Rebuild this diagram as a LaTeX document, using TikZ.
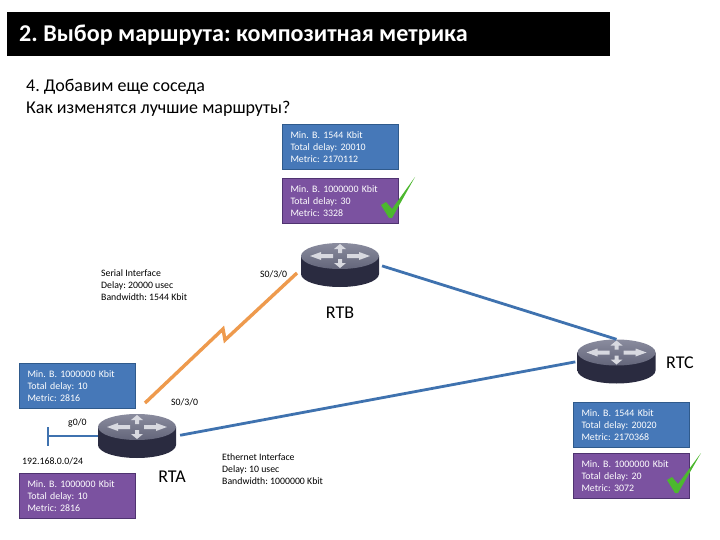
\documentclass[tikz,border=0pt]{standalone}
\usepackage{fontspec}
\setmainfont{Carlito}
\usetikzlibrary{arrows.meta}
\definecolor{barblue}{HTML}{3F72AF}
\definecolor{boxblue}{HTML}{4678B8}
\definecolor{boxblueedge}{HTML}{2F5A8C}
\definecolor{boxpurple}{HTML}{7B52A0}
\definecolor{boxpurpleedge}{HTML}{4F3370}
\definecolor{serial}{HTML}{EE9A4D}
\definecolor{tickgreen}{HTML}{4CB82E}
\definecolor{rdark}{HTML}{2A2B40}
\definecolor{rmid}{HTML}{5F6178}
\definecolor{rtop}{HTML}{8A8C9E}
\definecolor{rtopb}{HTML}{63657A}
\definecolor{rarrow}{HTML}{D8D9E0}
\tikzset{
  infobox/.style={draw, line width=1pt, minimum width=116pt, minimum height=45pt, inner sep=0pt, anchor=north west, text=white, font=\fontsize{9.9}{12}\selectfont, align=left, text width=100pt, inner xsep=8pt},
  blueinfo/.style={infobox, fill=boxblue, draw=boxblueedge},
  purpleinfo/.style={infobox, fill=boxpurple, draw=boxpurpleedge},
  note/.style={anchor=north west, inner sep=0pt, font=\fontsize{9.8}{12}\selectfont, align=left, text=black},
  rname/.style={anchor=center, inner sep=0pt, font=\fontsize{18}{20}\selectfont, text=black},
  routerbox/.style={minimum width=78pt, minimum height=44pt, inner sep=0pt},
  ethlink/.style={draw=barblue, line width=2.8pt},
  seriallink/.style={draw=serial, line width=3.4pt, line join=miter},
  tick/.style={fill=tickgreen, draw=none},
  routerpic/.pic={
    \path[left color=rdark, middle color=rmid, right color=rdark]
      (-39,-9) -- (-39,9) .. controls (-39,16.2) and (-21.5,22) .. (0,22) .. controls (21.5,22) and (39,16.2) .. (39,9) -- (39,-9) -- cycle;
    \path[top color=rtop, bottom color=rtopb]
      (-39,-9) .. controls (-39,-16.2) and (-21.5,-22) .. (0,-22) .. controls (21.5,-22) and (39,-16.2) .. (39,-9) .. controls (39,-1.8) and (21.5,4) .. (0,4) .. controls (-21.5,4) and (-39,-1.8) .. (-39,-9) -- cycle;
    \foreach \s in {-1,1}{
      \fill[rarrow] (\s*30,-9) -- (\s*19,-13) -- (\s*19,-11) -- (\s*7,-11) -- (\s*7,-7) -- (\s*19,-7) -- (\s*19,-5) -- cycle;
    }
    \fill[rarrow] (0,-21) -- (-6,-16) -- (-2,-16) -- (-2,-12) -- (2,-12) -- (2,-16) -- (6,-16) -- cycle;
    \fill[rarrow] (0,3) -- (-6,-2) -- (-2,-2) -- (-2,-6) -- (2,-6) -- (2,-2) -- (6,-2) -- cycle;
  }
}
\begin{document}
\frenchspacing
\begin{tikzpicture}[x=1pt,y=-1pt]
\useasboundingbox (0,0) rectangle (720,540);
\fill[white] (0,0) rectangle (720,540);
% title
\node[fill=black, minimum width=603pt, minimum height=44pt, anchor=north west, inner sep=0pt] (titlebar) at (7,12) {};
\node[anchor=west, inner sep=0pt, text=white, font=\bfseries\fontsize{24.1}{26}\selectfont] (title) at (19,35) {2. Выбор маршрута: композитная метрика};
\node[anchor=north west, inner sep=0pt, font=\fontsize{18}{22}\selectfont, align=left] (intro) at (26,79) {4. Добавим еще соседа\\Как изменятся лучшие маршруты?};
% routers
\node[routerbox] (rtb) at (340,265) {};
\node[routerbox] (rta) at (137,436) {};
\node[routerbox] (rtc) at (616.5,361.5) {};
\pic at (rtb.center) {routerpic};
\pic at (rta.center) {routerpic};
\pic at (rtc.center) {routerpic};
% connectors
\coordinate (serialA) at (145,403);
\coordinate (serialB) at (297,273);
\coordinate (zigA) at (223,329);
\coordinate (zigB) at (225,340);
\draw[seriallink] (serialA) -- (zigA) -- (zigB) -- (serialB);
\draw[ethlink, shorten <=3pt, shorten >=0pt] (rtb.east) -- (rtc.north);
\draw[ethlink, shorten <=4pt, shorten >=2pt] (rta.east) -- (rtc.west);
\coordinate (lanbarT) at (48,427);
\coordinate (lanbarB) at (48,446);
\coordinate (lanmid) at (48,436);
\draw[draw=barblue, line width=2.4pt] (lanbarT) -- (lanbarB);
\draw[draw=barblue, line width=2.4pt] (lanmid) -- (rta.west);
% info boxes
\node[blueinfo] (b1) at (282,124) {Min. B. 1544 Kbit\\Total delay: 20010\\Metric: 2170112};
\node[purpleinfo] (p1) at (282,178) {Min. B. 1000000 Kbit\\Total delay: 30\\Metric: 3328};
\node[blueinfo] (b2) at (19,363) {Min. B. 1000000 Kbit\\Total delay: 10\\Metric: 2816};
\node[purpleinfo] (p2) at (19,473) {Min. B. 1000000 Kbit\\Total delay: 10\\Metric: 2816};
\node[blueinfo] (b3) at (573,402) {Min. B. 1544 Kbit\\Total delay: 20020\\Metric: 2170368};
\node[purpleinfo] (p3) at (573,453) {Min. B. 1000000 Kbit\\Total delay: 20\\Metric: 3072};
% checks
\fill[tick] (381,205) -- (386,202) -- (392,209) -- (415,177) -- (392,218) -- (389,218) -- cycle;
\fill[tick] (667,480) -- (672,477) -- (678,484) -- (701,453) -- (678,493) -- (675,493) -- cycle;
% labels
\node[note] (serialnote) at (101,269) {Serial Interface\\Delay: 20000 usec\\Bandwidth: 1544 Kbit};
\node[note] (ethnote) at (222,453) {Ethernet Interface\\Delay: 10 usec\\Bandwidth: 1000000 Kbit};
\node[note] (s1) at (260,270) {S0/3/0};
\node[note] (s2) at (171,398) {S0/3/0};
\node[note] (g0) at (68,418) {g0/0};
\node[note] (net) at (22,457) {192.168.0.0/24};
\node[rname] (lb) at (340,313) {RTB};
\node[rname] (la) at (172,477) {RTA};
\node[rname] (lc) at (680,363) {RTC};
\end{tikzpicture}
\end{document}
